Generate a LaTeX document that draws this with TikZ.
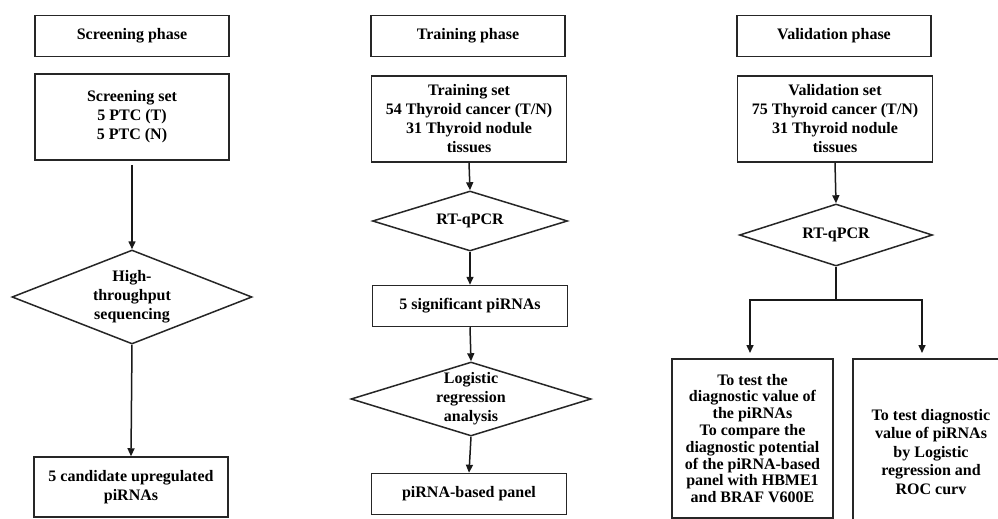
\documentclass[tikz,border=0pt]{standalone}
\usepackage{fontspec}
\setmainfont{Liberation Serif}
\usetikzlibrary{arrows.meta,shapes.geometric}
\begin{document}
\begin{tikzpicture}[x=1pt,y=-1pt,
  font=\fontsize{16}{19}\selectfont\bfseries,
  line width=1.5pt,
  box/.style={draw=black!85, rectangle, align=center, inner sep=0pt, line width=1.5pt},
  dia/.style={draw=black!85, diamond, inner sep=0pt, line width=1.5pt},
  lbl/.style={align=center, inner sep=0pt},
  arr/.style={draw=black!90, line width=1.5pt, -{Triangle[length=8pt,width=7pt]}},
  ln/.style={draw=black!90, line width=1.5pt},
]
\clip (0,0) rectangle (998,519);
\fill[white] (0,0) rectangle (998,519);

% ---------- Screening column
\node[box, minimum width=194pt, minimum height=41pt] (sp) at (132,36) {Screening phase};
\node[box, minimum width=194pt, minimum height=86pt] (ss) at (132,117) {Screening set\\5 PTC (T)\\5 PTC (N)};
\node[dia, minimum width=240pt, minimum height=94pt] (hts) at (132,297) {};
\node[lbl] (htsT) at (hts.center) {High-\\throughput\\sequencing};
\node[box, minimum width=194pt, minimum height=60pt] (cand) at (131,487) {5 candidate upregulated\\piRNAs};
\draw[arr] (ss.south) ++(0,4) -- (hts.north);
\draw[arr] (hts.south) -- (cand.north);

% ---------- Training column
\node[box, minimum width=194pt, minimum height=41pt] (tp) at (468,36) {Training phase};
\node[box, minimum width=195pt, minimum height=86pt] (ts) at (469,119) {Training set\\54 Thyroid cancer (T/N)\\31 Thyroid nodule\\tissues};
\node[dia, minimum width=195pt, minimum height=60pt] (rt1) at (470,221) {};
\node[lbl] (rt1T) at (rt1.center) {RT-qPCR};
\node[box, minimum width=195pt, minimum height=41pt] (sig) at (470,306) {5 significant piRNAs};
\node[dia, minimum width=240pt, minimum height=74pt] (lr) at (471,399) {};
\node[lbl] (lrT) at (lr.center) {Logistic\\regression\\analysis};
\node[box, minimum width=195pt, minimum height=41pt] (pan) at (469,494) {piRNA-based panel};
\draw[arr] (ts.south) -- (rt1.north);
\draw[arr] (rt1.south) -- (sig.north);
\draw[arr] (sig.south) -- (lr.north);
\draw[arr] (lr.south) -- (pan.north);

% ---------- Validation column
\node[box, minimum width=194pt, minimum height=41pt] (vp) at (834,36) {Validation phase};
\node[box, minimum width=195pt, minimum height=86pt] (vs) at (835,119) {Validation set\\75 Thyroid cancer (T/N)\\31 Thyroid nodule\\tissues};
\node[dia, minimum width=193pt, minimum height=62pt] (rt2) at (836,235) {};
\node[lbl] (rt2T) at (rt2.center) {RT-qPCR};
\node[box, minimum width=161pt, minimum height=159pt, font=\fontsize{16}{16.8}\selectfont\bfseries] (lbox) at (752.5,438.5)
  {To test the\\diagnostic value of\\the piRNAs\\To compare the\\diagnostic potential\\of the piRNA-based\\panel with HBME1\\and BRAF V600E};
\node[box, minimum width=156pt, minimum height=186pt, font=\fontsize{16}{18.5}\selectfont\bfseries] (rbox) at (931,452)
  {To test diagnostic\\value of piRNAs\\by Logistic\\regression and\\ROC curv};
\coordinate (split) at (836,300);
\coordinate (la) at (750,353);
\coordinate (ra) at (922,353);
\draw[arr] (vs.south) -- (rt2.north);
\draw[ln] (rt2.south) -- (split);
\draw[arr] (split) -| (la);
\draw[arr] (split) -| (ra);
\end{tikzpicture}
\end{document}
